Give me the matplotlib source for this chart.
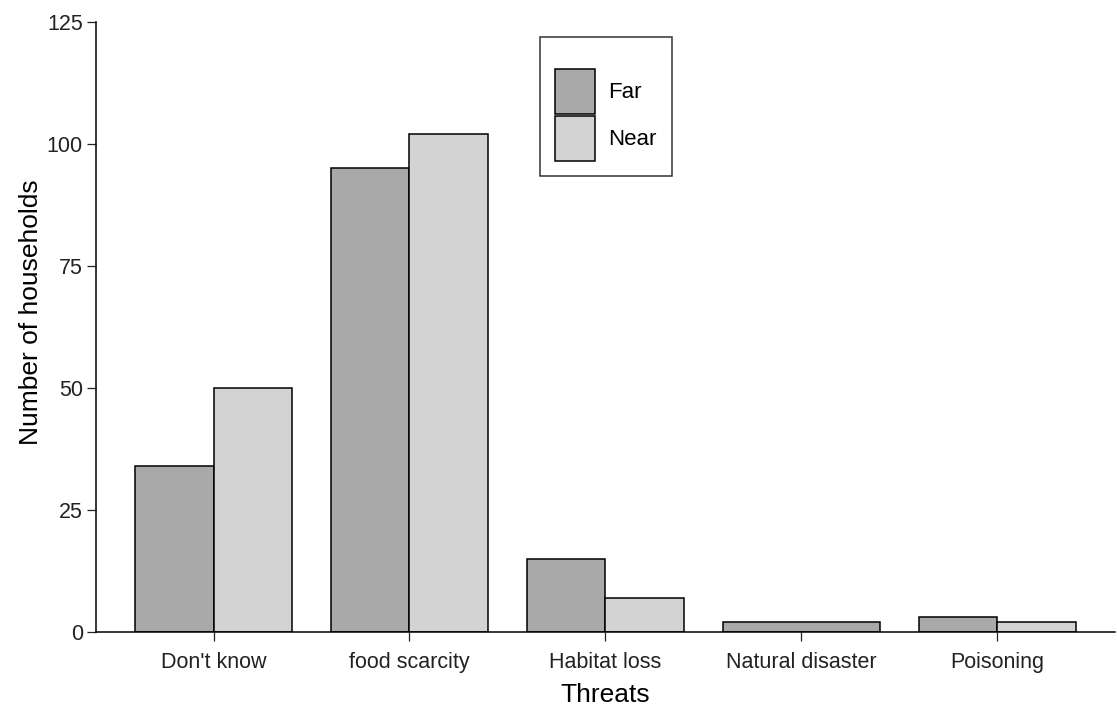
import numpy as np
import matplotlib
matplotlib.use("Agg")
import matplotlib.pyplot as plt
from matplotlib.patches import Patch

plt.rcParams['font.family'] = ['Liberation Sans', 'DejaVu Sans']

# data
threats = ["Don't know", "food scarcity", "Habitat loss", "Natural disaster", "Poisoning"]
far = [34, 95, 15, 2, 3]
near = [50, 102, 7, None, 2]   # no "Near" answers for natural disaster
groups = ["Far", "Near"]
colors = ["#A9A9A9", "#D3D3D3"]

fig = plt.figure(figsize=(11.17, 7.13), dpi=100)
ax = fig.add_axes([0.0859, 0.1136, 0.9121, 0.8554])

width = 0.8
x = np.arange(1, len(threats) + 1)
for i in range(len(threats)):
    vals = [far[i], near[i]]
    present = [k for k in range(2) if vals[k] is not None]
    w = width / len(present)
    # dodge like ggplot: bars share the full slot
    for j, k in enumerate(present):
        left = x[i] - width / 2 + j * w
        ax.bar(left, vals[k], width=w, align='edge', color=colors[k],
               edgecolor='black', linewidth=1.1)

ax.set_xlim(0.4, 5.6)
ax.set_ylim(0, 125)
ax.set_yticks([0, 25, 50, 75, 100, 125])
ax.set_xticks(x)
ax.set_xticklabels(threats)
ax.spines['top'].set_visible(False)
ax.spines['right'].set_visible(False)
ax.spines['left'].set_linewidth(1.1)
ax.spines['bottom'].set_linewidth(1.1)
ax.tick_params(axis='both', labelsize=15.5, length=6.5, width=0.9, colors='#222222',
               labelcolor='#222222', pad=3)
ax.tick_params(axis='x', pad=8)
ax.set_xlabel("Threats", fontsize=19, labelpad=7)
ax.set_ylabel("Number of households", fontsize=19)
ax.yaxis.set_label_coords(-0.052, 0.525)

handles = [Patch(facecolor=colors[k], edgecolor='black', linewidth=1.1) for k in range(2)]
leg = ax.legend(handles, groups, loc='upper left', bbox_to_anchor=(0.4357, 0.975),
                fontsize=16, frameon=True, fancybox=False, edgecolor='black',
                handlelength=1.8, handleheight=2.75, labelspacing=0.08,
                borderpad=0.7, handletextpad=0.55, borderaxespad=0,
                title=" ", title_fontsize=11)
leg.get_frame().set_linewidth(1.1)

fig.savefig("out.png", dpi=100)
